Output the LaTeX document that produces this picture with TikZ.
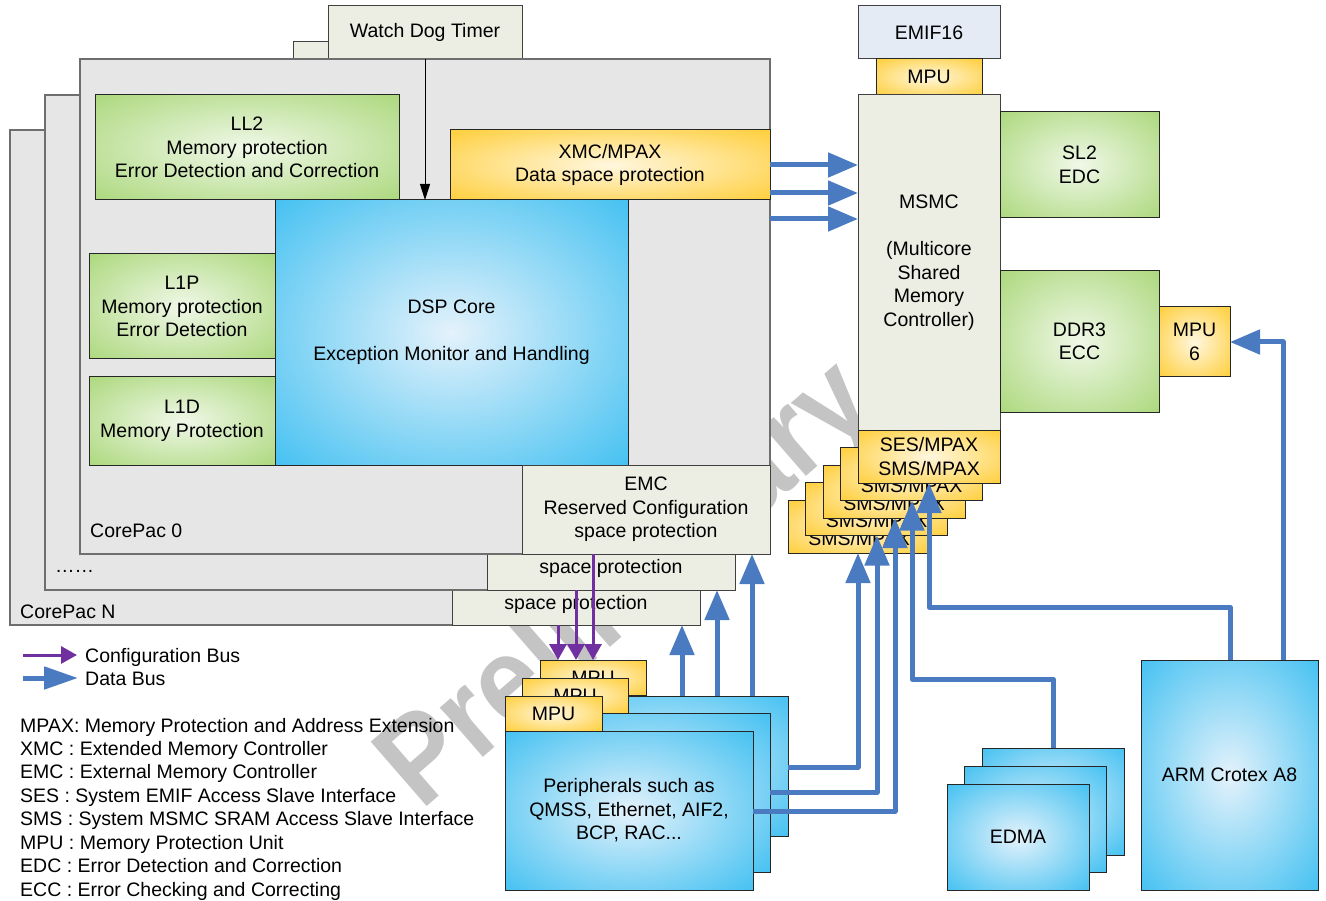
\documentclass[tikz,border=0pt]{standalone}
\usepackage{fontspec}
\setmainfont{Liberation Sans}
\usetikzlibrary{arrows.meta}

\newcommand{\boxfont}{\fontsize{19.5}{23.5}\selectfont}
\newcommand{\markfont}{\fontsize{124}{124}\selectfont\bfseries}

\definecolor{coreGray}{HTML}{E6E6E6}
\definecolor{coreEdge}{HTML}{6E6E6E}
\definecolor{paleFill}{HTML}{ECEDE3}
\definecolor{emifFill}{HTML}{E4EBF5}
\definecolor{greenOut}{HTML}{94CD57}
\definecolor{greenIn}{HTML}{F0F8E8}
\definecolor{blueOut}{HTML}{0DB0EE}
\definecolor{blueIn}{HTML}{E4F2FB}
\definecolor{orangeOut}{HTML}{FFC000}
\definecolor{orangeIn}{HTML}{FFF7DF}
\definecolor{dataBlue}{HTML}{4A7BC1}
\definecolor{cfgPurple}{HTML}{7030A0}
\definecolor{markGray}{HTML}{C4C4C4}

% soft centre-to-edge glows for the coloured blocks
\pgfdeclareradialshading{greenGlow}{\pgfpoint{0bp}{0bp}}{color(0bp)=(greenIn); color(48bp)=(greenOut); color(90bp)=(greenOut)}
\pgfdeclareradialshading{blueGlow}{\pgfpoint{0bp}{0bp}}{color(0bp)=(blueIn); color(48bp)=(blueOut); color(90bp)=(blueOut)}
\pgfdeclareradialshading{orangeGlow}{\pgfpoint{0bp}{0bp}}{color(0bp)=(orangeIn); color(48bp)=(orangeOut); color(90bp)=(orangeOut)}

\tikzset{
  blk/.style={anchor=north west, inner sep=0pt, outer sep=0pt, align=center, font=\boxfont, line width=1pt},
  sz/.style 2 args={minimum width=#1pt, minimum height=#2pt},
  corebox/.style={blk, fill=coreGray, draw=coreEdge, line width=1.3pt},
  palebox/.style={blk, fill=paleFill, draw=black!75},
  emifbox/.style={blk, fill=emifFill, draw=black!75},
  greenbox/.style={blk, draw=black!85, shade, shading=greenGlow},
  bluebox/.style={blk, draw=black!85, shade, shading=blueGlow},
  orangebox/.style={blk, draw=black!85, shade, shading=orangeGlow},
  lbl/.style={anchor=base west, inner sep=0pt, font=\boxfont},
  databus/.style={draw=dataBlue, line width=5pt, line join=round, -{Triangle[length=30pt,width=24pt]}},
  cfgbus/.style={draw=cfgPurple, line width=3pt, -{Triangle[length=16pt,width=17pt]}},
  wdtarrow/.style={draw=black, line width=1pt, -{Triangle[length=16pt,width=10pt]}},
}

\begin{document}
\begin{tikzpicture}[x=1pt, y=-1pt]
\useasboundingbox (0,0) rectangle (1326,901);

% watermark behind everything
\node[text=markGray, font=\markfont, rotate=41, xscale=0.9, inner sep=0pt] (mark) at (630,588) {Preliminary};

% ---------- CorePac stack ----------
\node[corebox, sz={690}{495}] (cpN) at (10,130) {};
\node[palebox, sz={248}{88}] (emcN) at (452,537) {\phantom{EMC}\\\phantom{Reserved Configuration}\\space protection};

\node[palebox, sz={194}{53}] (wdtM) at (293,42) {};
\node[corebox, sz={690}{495}] (cpM) at (45,95) {};
\node[palebox, sz={248}{89}] (emcM) at (487,501) {\phantom{EMC}\\\phantom{Reserved Configuration}\\space protection};

\node[palebox, sz={194}{53}] (wdt) at (328,6) {Watch Dog Timer};
\node[corebox, sz={690}{495}] (cp0) at (80,59) {};
\node[greenbox, sz={304}{105}] (ll2) at (95,95) {LL2\\Memory protection\\Error Detection and Correction};
\node[greenbox, sz={186}{105}] (l1p) at (89,254) {L1P\\Memory protection\\Error Detection};
\node[greenbox, sz={186}{88}] (l1d) at (89,377) {L1D\\Memory Protection};
\node[bluebox, sz={353}{265}] (dsp) at (275,200) {DSP Core\\[23.5pt]Exception Monitor and Handling};
\node[orangebox, sz={320}{70}] (xmc) at (450,130) {XMC/MPAX\\Data space protection};
\node[palebox, sz={248}{89}] (emc) at (522,465) {EMC\\Reserved Configuration\\space protection};

\node[lbl] (cp0lbl) at (90,537) {CorePac 0};
\node[lbl] (cpMlbl) at (55,572) {……};
\node[lbl] (cpNlbl) at (20,618) {CorePac N};

\draw[wdtarrow] (wdt.south) -- (wdt.south |- dsp.north);

% ---------- MSMC side ----------
\node[emifbox, sz={142}{53}] (emif) at (858,6) {EMIF16};
\node[orangebox, sz={106}{36}] (mpuE) at (876,59) {MPU};
\node[palebox, sz={142}{335}] (msmc) at (858,95) {MSMC\\[23.5pt](Multicore\\Shared\\Memory\\Controller)};
\node[greenbox, sz={159}{106}] (sl2) at (1000,112) {SL2\\EDC};
\node[greenbox, sz={159}{141}] (ddr) at (1000,271) {DDR3\\ECC};
\node[orangebox, sz={71}{70}] (mpu6) at (1159,307) {MPU\\6};

\node[orangebox, sz={142}{53}] (sms5) at (788,500) {\phantom{SES/MPAX}\\SMS/MPAX};
\node[orangebox, sz={142}{53}] (sms4) at (805.5,482.5) {\phantom{SES/MPAX}\\SMS/MPAX};
\node[orangebox, sz={142}{53}] (sms3) at (823,465) {\phantom{SES/MPAX}\\SMS/MPAX};
\node[orangebox, sz={142}{53}] (sms2) at (840.5,447.5) {\phantom{SES/MPAX}\\SMS/MPAX};
\node[orangebox, sz={142}{53}] (ses) at (858,430) {SES/MPAX\\SMS/MPAX};

% ---------- peripherals with their MPUs ----------
\node[bluebox, sz={248}{140}] (perC) at (540,696) {};
\node[orangebox, sz={106}{35}] (mpuC) at (540,660) {MPU};
\node[bluebox, sz={248}{159}] (perB) at (522,713) {};
\node[orangebox, sz={106}{35}] (mpuB) at (522,678) {MPU};
\node[bluebox, sz={248}{159}] (perA) at (505,731) {Peripherals such as\\QMSS, Ethernet, AIF2,\\BCP, RAC...};
\node[orangebox, sz={97}{35}] (mpuA) at (505,696) {MPU};

% ---------- EDMA and ARM ----------
\node[bluebox, sz={142}{107}] (edC) at (982,748) {};
\node[bluebox, sz={142}{106}] (edB) at (964,766) {};
\node[bluebox, sz={142}{106}] (edA) at (947,784) {EDMA};
\node[bluebox, sz={177}{230}] (arm) at (1141,660) {ARM Crotex A8};

% ---------- data buses ----------
\coordinate (r1) at (0,165);
\coordinate (r2) at (0,193);
\coordinate (r3) at (0,219);
\draw[databus] (xmc.east |- r1) -- (msmc.west |- r1);
\draw[databus] (cp0.east |- r2) -- (msmc.west |- r2);
\draw[databus] (cp0.east |- r3) -- (msmc.west |- r3);

\coordinate (u1) at (682,0);
\coordinate (u2) at (717,0);
\coordinate (u3) at (752,0);
\draw[databus] (perC.north -| u1) -- (emcN.south -| u1);
\draw[databus] (perC.north -| u2) -- (emcM.south -| u2);
\draw[databus] (perC.north -| u3) -- (emc.south -| u3);

\coordinate (h1) at (0,767);
\coordinate (h2) at (0,792);
\coordinate (h3) at (0,811);
\coordinate (v1) at (858,0);
\coordinate (v2) at (877,0);
\coordinate (v3) at (895,0);
\draw[databus] (perC.east |- h1) -| (sms5.south -| v1);
\draw[databus] (perB.east |- h2) -| (sms4.south -| v2);
\draw[databus] (perA.east |- h3) -| (sms3.south -| v3);

\coordinate (e1) at (1053,0);
\coordinate (h4) at (0,679);
\coordinate (v4) at (912,0);
\draw[databus] (edC.north -| e1) -- (e1 |- h4) -| (sms2.south -| v4);

\coordinate (a1) at (1230,0);
\coordinate (h5) at (0,607);
\coordinate (v5) at (929,0);
\draw[databus] (arm.north -| a1) -- (a1 |- h5) -| (ses.south -| v5);

\coordinate (a2) at (1283,0);
\draw[databus] (arm.north -| a2) |- (mpu6.east);

% ---------- configuration buses ----------
\coordinate (p1) at (558,0);
\coordinate (p2) at (576,0);
\coordinate (p3) at (593,0);
\draw[cfgbus] (emcN.south -| p1) -- (mpuC.north -| p1);
\draw[cfgbus] (emcM.south -| p2) -- (mpuC.north -| p2);
\draw[cfgbus] (emc.south -| p3) -- (mpuC.north -| p3);

% ---------- legend ----------
\coordinate (lgC1) at (23,655);
\coordinate (lgC2) at (77,655);
\coordinate (lgD1) at (23,678);
\coordinate (lgD2) at (78,678);
\draw[cfgbus] (lgC1) -- (lgC2);
\draw[draw=dataBlue, line width=5pt, -{Triangle[length=34pt,width=22pt]}] (lgD1) -- (lgD2);
\node[lbl] (lgCtxt) at (85,662) {Configuration Bus};
\node[lbl] (lgDtxt) at (85,685) {Data Bus};

\foreach \t [count=\i] in {MPAX: Memory Protection and Address Extension,
  XMC : Extended Memory Controller,
  EMC : External Memory Controller,
  SES : System EMIF Access Slave Interface,
  SMS : System MSMC SRAM Access Slave Interface,
  MPU : Memory Protection Unit,
  EDC : Error Detection and Correction,
  ECC : Error Checking and Correcting}
  \node[lbl] (gloss\i) at (20,{732+23.43*(\i-1)}) {\t};

\end{tikzpicture}
\end{document}
